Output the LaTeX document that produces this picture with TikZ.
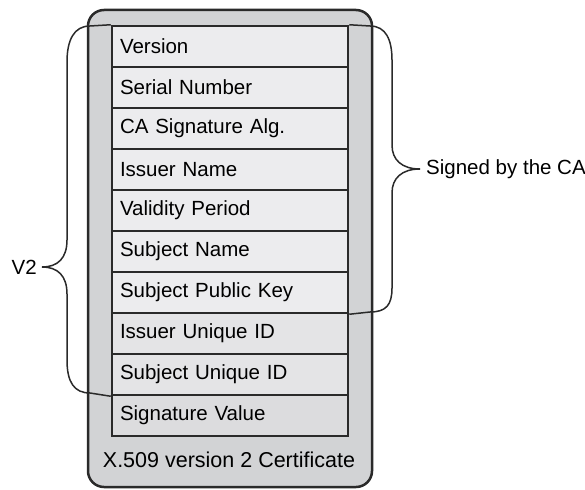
\documentclass[tikz,border=0pt]{standalone}
\usepackage{fontspec}
\setmainfont{Liberation Sans}
\usepackage{tikz}

\definecolor{certgray}{HTML}{D2D3D5}
\definecolor{fieldlight}{HTML}{ECECEE}
\definecolor{fieldmid}{HTML}{E4E4E6}
\definecolor{fielddark}{HTML}{DCDCDE}
\definecolor{inkgray}{HTML}{2A2A2A}

\begin{document}
\begin{tikzpicture}[x=1pt, y=-1pt]
                \useasboundingbox (0,0) rectangle (585,489);
                \node [draw=inkgray, line width=2.5pt, fill=certgray, rounded corners=16pt,
                       minimum width=284pt, minimum height=477pt, inner sep=0pt] (cert) at (230,248.5) {};
                \begin{scope}[every node/.style={draw=inkgray, line width=2.5pt, fill=fieldlight,
                        minimum width=236pt, minimum height=41pt, inner xsep=8pt, inner ysep=0pt,
                        text width=220pt, align=left, font=\fontsize{20.5}{24}\selectfont}]
                        \node (ver) at (230,46.5) {Version};
                        \node (serial) at (230,87.5) {Serial Number};
                        \node (sigalg) at (230,128.5) {CA Signature Alg.};
                        \node (issuer) at (230,169.5) {Issuer Name};
                        \node (valid) at (230,210.5) {Validity Period};
                        \node (subj) at (230,251.5) {Subject Name};
                        \node (pubkey) at (230,292.5) {Subject Public Key};
                        \node [fill=fieldmid] (issuid) at (230,333.5) {Issuer Unique ID};
                        \node [fill=fieldmid] (subjuid) at (230,374.5) {Subject Unique ID};
                        \node [fill=fielddark] (sigval) at (230,415.5) {Signature Value};
                \end{scope}
                \node [font=\fontsize{21.5}{25}\selectfont, inner sep=0pt] (caption) at (229,460) {X.509 version 2 Certificate};
                % braces
                \begin{scope}[every path/.style={draw=inkgray, line width=1.5pt}]
                        \draw (ver.north west) -- (90,26) .. controls (74,26) and (67,40) .. (67,62) -- (67,240)
                                .. controls (67,258) and (58,267) .. (42,267)
                                .. controls (58,267) and (67,276) .. (67,294) -- (67,360)
                                .. controls (67,382) and (74,393) .. (90,393) -- (subjuid.south west);
                        \draw (ver.north east) -- (370,26) .. controls (386,26) and (392,40) .. (392,60) -- (392,145)
                                .. controls (392,160) and (402,169) .. (420,169)
                                .. controls (402,169) and (392,178) .. (392,193) -- (392,288)
                                .. controls (392,305) and (386,312) .. (370,312) -- (pubkey.south east);
                \end{scope}
                \node [font=\fontsize{20.5}{24}\selectfont, anchor=east, inner sep=0pt] (vtwo) at (37,267) {V2};
                \node [font=\fontsize{20.5}{24}\selectfont, anchor=west, inner sep=0pt] (signed) at (426,169) {Signed by the CA};
\end{tikzpicture}
\end{document}
